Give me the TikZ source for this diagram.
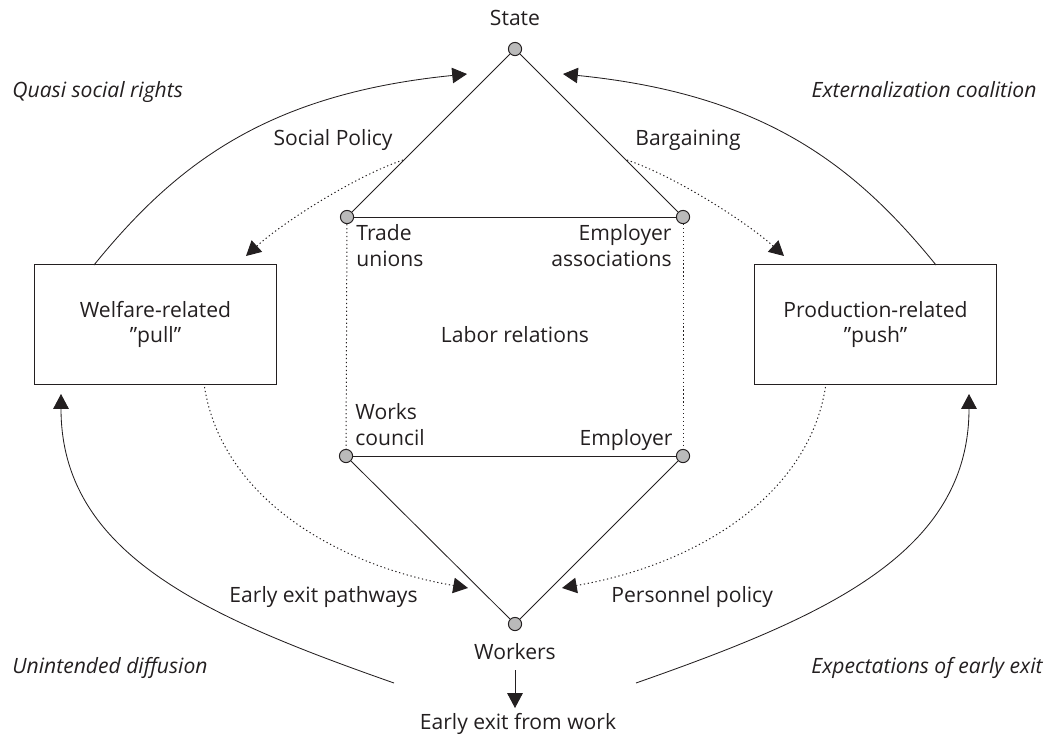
\documentclass[tikz,border=0pt]{standalone}
\usepackage{fontspec}
\setmainfont{Open Sans}
\usetikzlibrary{arrows.meta}
\definecolor{ink}{HTML}{231F20}
\tikzset{
  actor/.style={circle, draw=ink, line width=0.7pt, fill=black!27, minimum size=0.33cm, inner sep=0pt},
  lbl/.style={inner sep=0pt, text=ink, font=\fontsize{15}{18.2}\selectfont},
  box/.style={lbl, draw=ink, line width=0.7pt, align=center, minimum width=6.025cm, minimum height=2.975cm},
  flow/.style={-{Triangle[length=10.5pt,width=11pt]}},
  dots/.style={line width=0.7pt, dash pattern=on 0.9pt off 1.9pt},
}
\begin{document}
\begin{tikzpicture}[x=0.025cm, y=-0.025cm, line width=0.6pt, draw=ink]
      \useasboundingbox (0,0) rectangle (1052,737);
      % actors
      \node[actor] (state) at (515,49) {};
      \node[actor] (tu) at (347,217) {};
      \node[actor] (ea) at (683,217) {};
      \node[actor] (wc) at (346,456) {};
      \node[actor] (emp) at (683,456) {};
      \node[actor] (workers) at (515,624) {};
      % boxes
      \node[box] (pull) at (155.5,324.5) {Welfare-related\\"pull"};
      \node[box] (push) at (875.5,324.5) {Production-related\\"push"};
      % labels
      \node[lbl, anchor=base] (lstate) at (515,25) {State};
      \node[lbl, anchor=base east] (lsp) at (393,145) {Social Policy};
      \node[lbl, anchor=base west] (lbar) at (635,145) {Bargaining};
      \node[lbl, anchor=north west, align=left] (ltu) at (356,224) {Trade\\unions};
      \node[lbl, anchor=north east, align=right] (lea) at (672,224) {Employer\\associations};
      \node[lbl] (llab) at (515,335) {Labor relations};
      \node[lbl, anchor=north west, align=left] (lwc) at (355,403) {Works\\council};
      \node[lbl, anchor=base east] (lemp) at (673,445) {Employer};
      \node[lbl, anchor=base east] (lpath) at (418,602) {Early exit pathways};
      \node[lbl, anchor=base west] (lpers) at (611,602) {Personnel policy};
      \node[lbl, anchor=base] (lwork) at (515,659) {Workers};
      \node[lbl, anchor=base] (exit) at (518,729.5) {Early exit from work};
      \node[lbl, anchor=base west, font=\fontsize{15}{18.2}\selectfont\itshape] (lqsr) at (12,97) {Quasi social rights};
      \node[lbl, anchor=base east, font=\fontsize{15}{18.2}\selectfont\itshape] (lext) at (1037,97) {Externalization coalition};
      \node[lbl, anchor=base west, font=\fontsize{15}{18.2}\selectfont\itshape] (lund) at (12,673) {Unintended diffusion};
      \node[lbl, anchor=base east, font=\fontsize{15}{18.2}\selectfont\itshape] (lexp) at (1043,673) {Expectations of early exit};
      % curve ends
      \coordinate (qa) at (94,265);
      \coordinate (qb) at (467,74);
      \coordinate (ea1) at (936,265);
      \coordinate (eb) at (563,74);
      \coordinate (ua) at (394,683);
      \coordinate (ub) at (61,394);
      \coordinate (xa) at (636,683);
      \coordinate (xb) at (969,394);
      \coordinate (spa) at (403,160);
      \coordinate (spb) at (246,256);
      \coordinate (bga) at (627,160);
      \coordinate (bgb) at (784,256);
      \coordinate (epa) at (204.5,387);
      \coordinate (epb) at (468,588);
      \coordinate (ppa) at (825.5,387);
      \coordinate (ppb) at (562,588);
      \coordinate (wa) at (515,670);
      \coordinate (wb) at (515,708);
      % labor relations
      \draw (state) -- (tu);
      \draw (state) -- (ea);
      \draw (tu) -- (ea);
      \draw (wc) -- (emp);
      \draw (wc) -- (workers);
      \draw (emp) -- (workers);
      \begin{scope}[dots]
        \draw (tu) -- (wc);
        \draw (ea) -- (emp);
      \end{scope}
      \draw[flow] (wa) -- (wb);
      % outer loops
      \draw[flow] (qa) .. controls (176,164) and (267,94) .. (qb);
      \draw[flow] (ea1) .. controls (854,164) and (763,94) .. (eb);
      \draw[flow] (ua) .. controls (206,617) and (61,554) .. (ub);
      \draw[flow] (xa) .. controls (824,617) and (969,554) .. (xb);
      % dotted influence
      \begin{scope}[dots]
        \draw[flow] (spa) .. controls (353,177) and (281,224) .. (spb);
        \draw[flow] (bga) .. controls (677,177) and (749,224) .. (bgb);
        \draw[flow] (epa) .. controls (222,497) and (335,565) .. (epb);
        \draw[flow] (ppa) .. controls (808,497) and (695,565) .. (ppb);
      \end{scope}
    \end{tikzpicture}
\end{document}
